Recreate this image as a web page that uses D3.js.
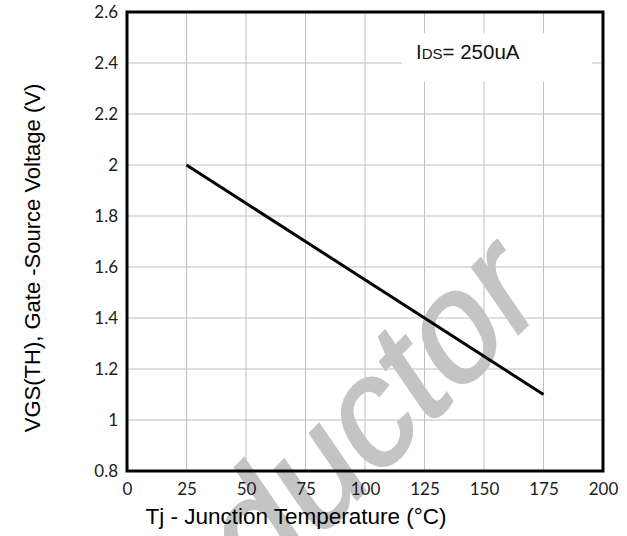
<!DOCTYPE html>
<html>
<head>
<meta charset="utf-8">
<script src="https://cdn.jsdelivr.net/npm/d3@7"></script>
<style>
  body { margin: 0; background: #fff; }
  svg { display: block; }
</style>
</head>
<body>
<svg width="627" height="536"></svg>
<script>
// curve data
let temps = [25, 50, 75, 100, 125, 150, 175];
let vth = [2.0, 1.85, 1.7, 1.55, 1.4, 1.25, 1.1];

let xTicks = [0, 25, 50, 75, 100, 125, 150, 175, 200];
let yTicks = [0.8, 1, 1.2, 1.4, 1.6, 1.8, 2, 2.2, 2.4, 2.6];

let svg = d3.select('svg');

let margin = { left: 127, right: 24, top: 12, bottom: 65 };
let W = 627, H = 536;

let x = d3.scaleLinear().domain([0, 200]).range([margin.left, W - margin.right]);
let y = d3.scaleLinear().domain([0.8, 2.6]).range([H - margin.bottom, margin.top]);

// grid
let grid = svg.append('g').attr('class', 'grid');
grid.selectAll('line.v')
  .data(xTicks)
  .enter()
  .append('line')
  .attr('x1', d => x(d)).attr('x2', d => x(d))
  .attr('y1', y(2.6)).attr('y2', y(0.8))
  .attr('stroke', '#bfbfbf').attr('stroke-width', 1);
grid.selectAll('line.h')
  .data(yTicks)
  .enter()
  .append('line')
  .attr('x1', x(0)).attr('x2', x(200))
  .attr('y1', d => y(d)).attr('y2', d => y(d))
  .attr('stroke', '#bfbfbf').attr('stroke-width', 1);

// label box hides the grid behind it
let lab = svg.append('g');
lab.append('rect')
  .attr('x', 402).attr('y', 33).attr('width', 190).attr('height', 49)
  .attr('fill', '#fff');
let t = lab.append('text')
  .attr('x', 416).attr('y', 59)
  .attr('font-family', 'Liberation Sans, Arial, sans-serif')
  .attr('font-size', 20.5).attr('fill', '#111');
t.append('tspan').text('I');
t.append('tspan').attr('font-size', 15).text('DS');
t.append('tspan').text('= 250uA');

// watermark (page image looks a bit stretched vertically)
svg.append('text')
  .attr('transform', 'translate(546,306) scale(1,1.22) rotate(-40)')
  .attr('text-anchor', 'end')
  .attr('font-family', 'Liberation Sans, Arial, sans-serif')
  .attr('font-size', 136)
  .attr('fill', '#c4c4c4')
  .attr('stroke', '#c4c4c4')
  .attr('stroke-width', 2)
  .text('Semiconductor');

// the curve
let line = d3.line().x(d => x(d[0])).y(d => y(d[1]));
svg.append('path')
  .datum(temps.map((d, i) => [d, vth[i]]))
  .attr('d', line)
  .attr('fill', 'none')
  .attr('stroke', '#000')
  .attr('stroke-width', 3);

// frame
svg.append('rect')
  .attr('x', x(0)).attr('y', y(2.6))
  .attr('width', x(200) - x(0)).attr('height', y(0.8) - y(2.6))
  .attr('fill', 'none').attr('stroke', '#000').attr('stroke-width', 3);

// axes (labels only)
let tickFont = 'Lato, Open Sans, sans-serif';
let xAxis = svg.append('g')
  .attr('transform', `translate(0,${y(0.8) + 2})`)
  .call(d3.axisBottom(x).tickValues(xTicks).tickSize(0).tickPadding(10));
let yAxis = svg.append('g')
  .attr('transform', `translate(${x(0) - 2},0)`)
  .call(d3.axisLeft(y).tickValues(yTicks).tickSize(0).tickPadding(7).tickFormat(d3.format('')));
[xAxis, yAxis].forEach(a => {
  a.select('.domain').remove();
  a.selectAll('text')
    .attr('font-family', tickFont)
    .attr('font-size', 17)
    .attr('fill', '#1b1b24');
});

// titles
svg.append('text')
  .attr('x', 296).attr('y', 524)
  .attr('text-anchor', 'middle')
  .attr('font-family', 'Liberation Sans, Arial, sans-serif')
  .attr('font-size', 22.5).attr('fill', '#000')
  .text('Tj - Junction Temperature (°C)');

svg.append('text')
  .attr('transform', 'translate(40,258) rotate(-90)')
  .attr('text-anchor', 'middle')
  .attr('font-family', 'Liberation Sans, Arial, sans-serif')
  .attr('font-size', 22).attr('fill', '#000')
  .text('VGS(TH), Gate -Source Voltage (V)');
</script>
</body>
</html>
